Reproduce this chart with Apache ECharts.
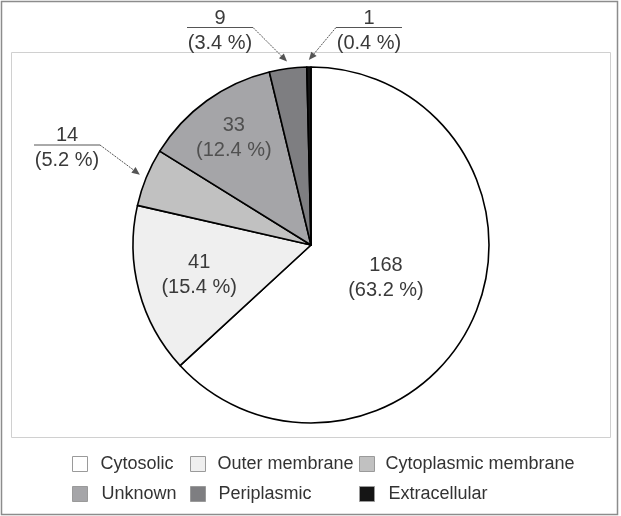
<!DOCTYPE html>
<html>
<head>
<meta charset="utf-8">
<script src="https://cdn.jsdelivr.net/npm/echarts@6/dist/echarts.min.js"></script>
<style>
html,body{margin:0;padding:0;background:#fff;}
#chart{width:621px;height:516px;}
</style>
</head>
<body>
<div id="chart"></div>
<script>
// ---- data ----
const categories = ['Cytosolic', 'Outer membrane', 'Cytoplasmic membrane', 'Unknown', 'Periplasmic', 'Extracellular'];
const counts = [168, 41, 14, 33, 9, 1];
const percentLabels = ['63.2', '15.4', '5.2', '12.4', '3.4', '0.4'];

// ---- styles / layout ----
const colors = ['#ffffff', '#efefef', '#c1c1c1', '#a5a5a8', '#7e7e81', '#151515'];
const FONT = 'Liberation Sans, Arial, sans-serif';
const CX = 311, CY = 245, R = 178;
const insideFrac = {0: 0.46, 1: 0.65, 3: 0.74};
const insideColor = {0: '#3a3a3a', 1: '#3a3a3a', 3: '#505050'};
const outside = {
  2: {x: 67, y: 148, arrowFrom: 'right'},
  4: {x: 220, y: 30.5, arrowFrom: 'right'},
  5: {x: 369, y: 30.5, arrowFrom: 'left'}
};
const legendPos = [
  {left: 72, top: 455, pad: 8}, {left: 190, top: 455, pad: 7}, {left: 359, top: 455, pad: 6},
  {left: 72, top: 485, pad: 9}, {left: 190, top: 485, pad: 8}, {left: 359, top: 485, pad: 9}
];

const total = counts.reduce((a, b) => a + b, 0);
const startDeg = [];
let acc = 0;
counts.forEach(v => { startDeg.push(acc / total * 360); acc += v; });
const midDeg = counts.map((v, i) => startDeg[i] + v / total * 180);
function pt(deg, r) {
  const t = deg * Math.PI / 180;
  return [CX + r * Math.sin(t), CY - r * Math.cos(t)];
}

const chart = echarts.init(document.getElementById('chart'), null, {renderer: 'canvas'});

const graphics = [
  {type: 'rect', shape: {x: 1.5, y: 1.5, width: 616, height: 513}, style: {fill: 'none', stroke: '#8c8c8c', lineWidth: 1.5}, silent: true},
  {type: 'rect', shape: {x: 11.5, y: 52.5, width: 599, height: 385}, style: {fill: 'none', stroke: '#d0d0d0', lineWidth: 1}, silent: true}
];
Object.keys(outside).forEach(k => {
  const i = +k, o = outside[k];
  const halfW = 33;
  const ly = o.y - 3;
  graphics.push({type: 'line', shape: {x1: o.x - halfW, y1: ly, x2: o.x + halfW, y2: ly}, style: {stroke: '#555', lineWidth: 1}, silent: true});
  const sx = o.arrowFrom === 'right' ? o.x + halfW : o.x - halfW;
  const tip = pt(midDeg[i], R + 7);
  const dx = tip[0] - sx, dy = tip[1] - ly, len = Math.hypot(dx, dy);
  const ux = dx / len, uy = dy / len;
  const bx = tip[0] - ux * 8, by = tip[1] - uy * 8;
  graphics.push({type: 'line', shape: {x1: sx, y1: ly, x2: bx, y2: by}, style: {stroke: '#555', lineWidth: 1, lineDash: [2, 1]}, silent: true});
  graphics.push({type: 'polygon', shape: {points: [tip, [bx - uy * 3.5, by + ux * 3.5], [bx + uy * 3.5, by - ux * 3.5]]}, style: {fill: '#555'}, silent: true});
});

const legends = categories.map((name, i) => ({
  data: [name],
  left: legendPos[i].left,
  top: legendPos[i].top,
  padding: 0,
  orient: 'horizontal',
  icon: 'rect',
  itemWidth: 15,
  itemHeight: 15,
  selectedMode: false,
  itemStyle: {borderColor: '#9a9a9a', borderWidth: 1},
  textStyle: {fontSize: 18, color: '#333', fontFamily: FONT, padding: [0, 0, 0, legendPos[i].pad]}
}));

chart.setOption({
  animation: false,
  backgroundColor: '#fff',
  color: colors,
  legend: legends,
  graphic: graphics,
  series: [{
    type: 'pie',
    center: [CX, CY],
    radius: R,
    startAngle: 90,
    clockwise: true,
    avoidLabelOverlap: false,
    silent: true,
    data: categories.map((name, i) => ({
      name: name,
      value: counts[i],
      itemStyle: {color: colors[i]},
      label: {color: insideColor[i] || '#3a3a3a'}
    })),
    itemStyle: {borderColor: '#000', borderWidth: 1.6},
    label: {
      show: true,
      position: 'inside',
      fontSize: 20,
      fontFamily: FONT,
      lineHeight: 25,
      align: 'center',
      formatter: p => counts[p.dataIndex] + '\n(' + percentLabels[p.dataIndex] + ' %)'
    },
    labelLine: {show: false},
    labelLayout: function (p) {
      const i = p.dataIndex;
      if (outside[i]) {
        return {x: outside[i].x, y: outside[i].y, align: 'center', verticalAlign: 'middle'};
      }
      const q = pt(midDeg[i], R * insideFrac[i]);
      return {x: q[0], y: q[1], align: 'center', verticalAlign: 'middle'};
    }
  }]
});
</script>
</body>
</html>
